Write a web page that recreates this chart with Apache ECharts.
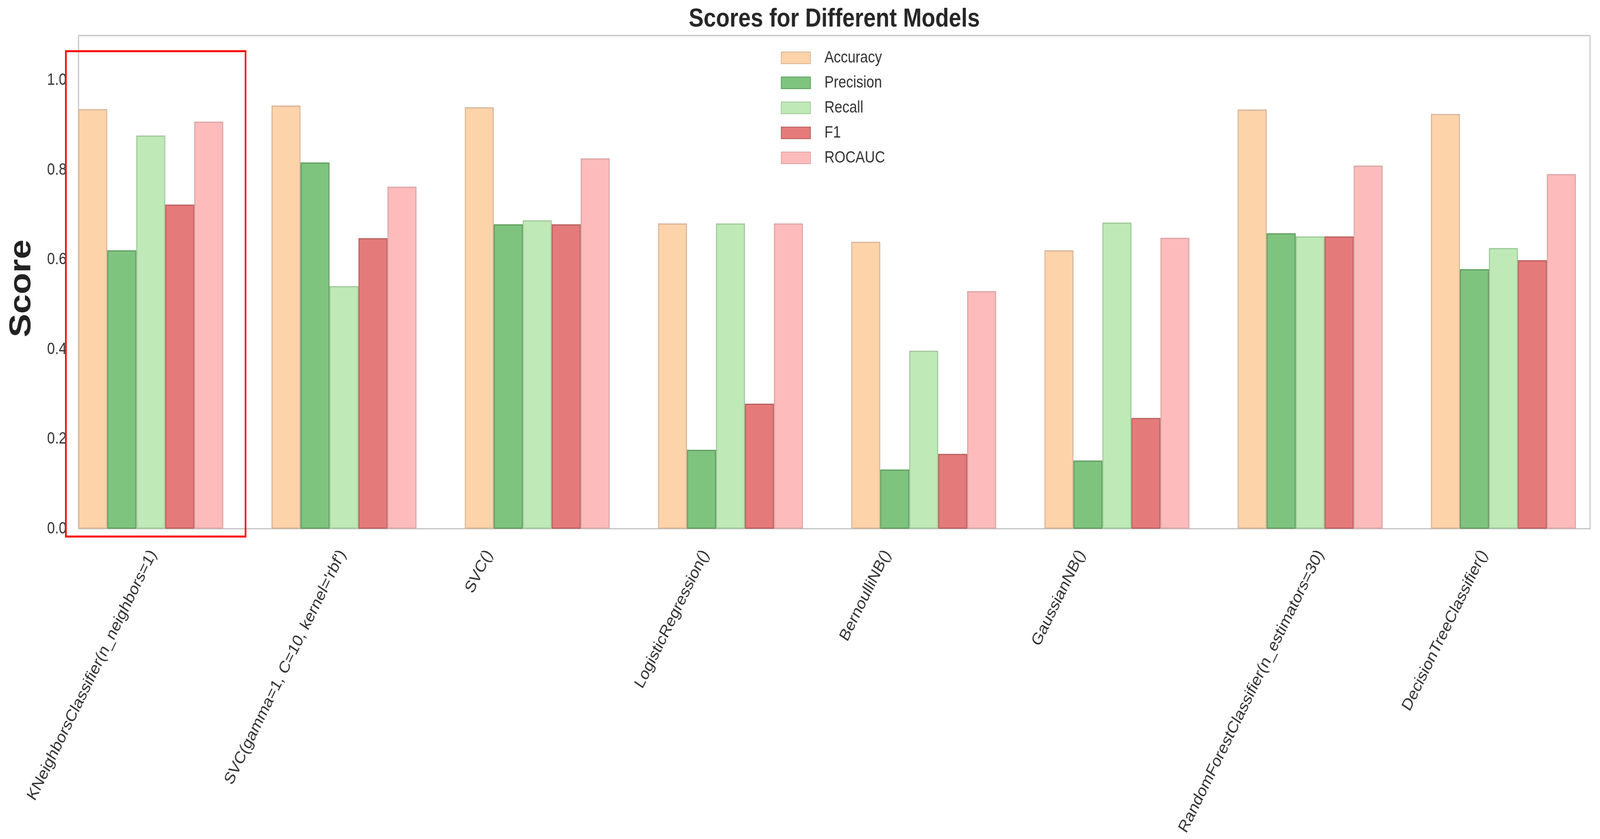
<!DOCTYPE html>
<html>
<head>
<meta charset="utf-8">
<script src="https://cdn.jsdelivr.net/npm/echarts@6/dist/echarts.min.js"></script>
<style>
  html, body { margin: 0; padding: 0; background: #ffffff; overflow: hidden; }
  #chart { width: 4809px; height: 2147px; transform-origin: 0 0; }
</style>
</head>
<body>
<div id="chart"></div>
<script>
// ---- data ----
const models = [
  "KNeighborsClassifier(n_neighbors=1)",
  "SVC(gamma=1, C=10, kernel='rbf')",
  "SVC()",
  "LogisticRegression()",
  "BernoulliNB()",
  "GaussianNB()",
  "RandomForestClassifier(n_estimators=30)",
  "DecisionTreeClassifier()"
];
const metricNames = ["Accuracy", "Precision", "Recall", "F1", "ROCAUC"];
const accuracy  = [0.936, 0.944, 0.940, 0.681, 0.640, 0.621, 0.935, 0.925];
const precision = [0.621, 0.817, 0.679, 0.176, 0.132, 0.152, 0.659, 0.579];
const recall    = [0.877, 0.541, 0.688, 0.681, 0.397, 0.683, 0.652, 0.626];
const f1        = [0.723, 0.648, 0.679, 0.279, 0.167, 0.247, 0.652, 0.599];
const rocauc    = [0.908, 0.763, 0.826, 0.681, 0.530, 0.649, 0.810, 0.791];
const yTicks    = [0.0, 0.2, 0.4, 0.6, 0.8, 1.0];

// ---- styles ----
const fills   = ['#FDD3A9', '#7EC47E', '#BFE9B6', '#E57A7A', '#FDBBBB'];
const borders = ['#D6B49A', '#5F9C5F', '#9FC79A', '#B86060', '#D9A5A5'];
const FONT = '"Liberation Sans", Arial, Helvetica, sans-serif';
const TXT = '#333333';

// the chart is laid out on a 4809x2147 canvas and fitted to the actual window
const REF_W = 4809, REF_H = 2147;
const el = document.getElementById('chart');
el.style.transform = 'scale(' + (window.innerWidth / REF_W) + ',' + (window.innerHeight / REF_H) + ')';

const chart = echarts.init(el, null, { renderer: 'canvas', width: REF_W, height: REF_H });

// plot frame geometry (pixels)
const plotLeft = 236, plotTop = 91, plotWidth = 4543, plotHeight = 1262;
const barFrac = 0.15;                        // bar width as fraction of category spacing
const band = plotWidth / (7 + 5 * barFrac);  // category spacing in px
const barsLeft = plotLeft - (1 - 5 * barFrac) / 2 * band;

// emulate matplotlib rotated, centred tick labels (centre of rotated bbox at first bar centre)
const labelFontSize = 44;
const ctx = document.createElement('canvas').getContext('2d');
ctx.font = labelFontSize + 'px ' + FONT;
const labelPos = models.map((m, i) => {
  const L = ctx.measureText(m).width;
  return i - 2 * barFrac + (L / 4) / band;
});

const seriesData = [accuracy, precision, recall, f1, rocauc];

chart.setOption({
  animation: false,
  backgroundColor: '#ffffff',
  title: {
    text: 'Scores for Different Models',
    left: plotLeft + plotWidth / 2,
    textAlign: 'center',
    top: 16,
    padding: 0,
    textStyle: { fontFamily: FONT, fontSize: 67, fontWeight: 'bold', color: '#262626' }
  },
  legend: {
    data: metricNames,
    orient: 'vertical',
    left: 2347,
    top: 127,
    padding: 0,
    itemWidth: 88,
    itemHeight: 30,
    itemGap: 22,
    icon: 'rect',
    textStyle: { fontFamily: FONT, fontSize: 42, color: TXT, padding: [0, 0, 0, 37] }
  },
  grid: [
    { left: barsLeft, top: plotTop, width: band * 8, height: plotHeight, show: false },
    { left: plotLeft, top: plotTop, width: plotWidth, height: plotHeight, show: true,
      borderColor: '#c2c2c2', borderWidth: 3, backgroundColor: 'rgba(0,0,0,0)' }
  ],
  xAxis: [
    { type: 'category', gridIndex: 0, data: models, show: false, position: 'top' },
    { type: 'value', gridIndex: 0, min: -0.5, max: 7.5, position: 'bottom',
      axisLine: { show: false }, axisTick: { show: false }, splitLine: { show: false },
      axisLabel: {
        customValues: labelPos,
        rotate: 60,
        align: 'right',
        verticalAlign: 'middle',
        margin: 58,
        fontFamily: FONT, fontSize: labelFontSize, color: TXT,
        formatter: function (v) {
          let best = 0, d = Infinity;
          labelPos.forEach((p, i) => { if (Math.abs(p - v) < d) { d = Math.abs(p - v); best = i; } });
          return models[best];
        }
      }
    },
    { type: 'value', gridIndex: 1, min: 0, max: 1, show: false }
  ],
  yAxis: [
    { type: 'value', gridIndex: 0, min: 0, max: 1.1, show: false },
    { type: 'value', gridIndex: 1, min: 0, max: 1.1, interval: 0.2, position: 'left',
      axisLine: { show: false }, axisTick: { show: false }, splitLine: { show: false },
      axisLabel: {
        customValues: yTicks,
        margin: 36, fontFamily: FONT, fontSize: 42, color: TXT,
        formatter: v => v.toFixed(1)
      },
      name: 'Score', nameLocation: 'middle', nameGap: 125, nameRotate: 90,
      nameTextStyle: { fontFamily: FONT, fontSize: 90, fontWeight: 'bold', color: '#222222',
        padding: [0, 32, 0, 0] }
    }
  ],
  series: metricNames.map((name, k) => ({
    name: name,
    type: 'bar',
    xAxisIndex: 0,
    yAxisIndex: 0,
    data: seriesData[k],
    barWidth: (barFrac * 100) + '%',
    barGap: '0%',
    itemStyle: { color: fills[k], borderColor: borders[k], borderWidth: 3 }
  })),
  graphic: [
    { type: 'rect', z: 100, silent: true,
      shape: { x: 198, y: 131, width: 540, height: 1242 },
      style: { fill: 'none', stroke: '#ff0000', lineWidth: 5 } }
  ]
});
</script>
</body>
</html>
